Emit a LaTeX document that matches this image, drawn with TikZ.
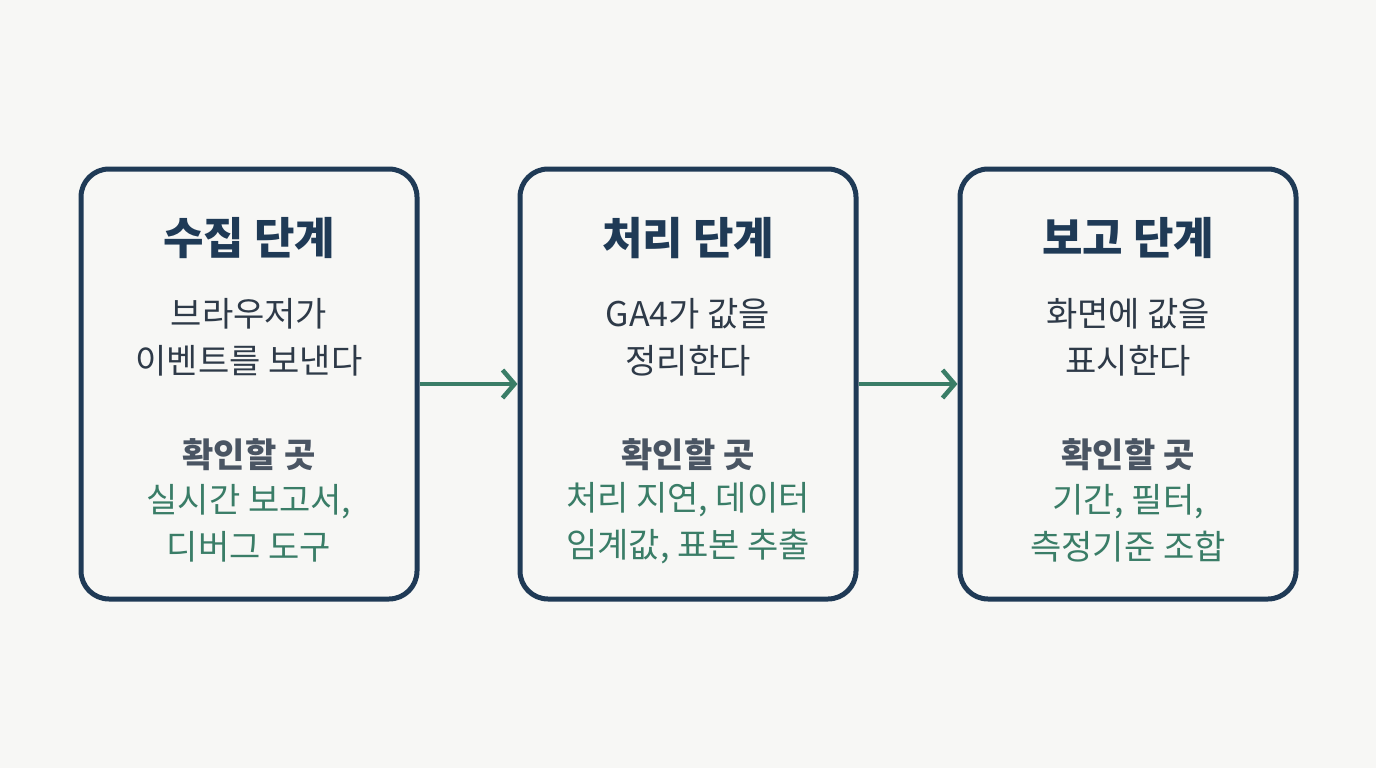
\documentclass[tikz,border=0pt]{standalone}
\usepackage{fontspec}
\setmainfont{Noto Sans CJK KR}
\usetikzlibrary{arrows.meta}
\definecolor{bg}{HTML}{F7F7F5}
\definecolor{navy}{HTML}{1F3A56}
\definecolor{grn}{HTML}{3A7D67}
\definecolor{txt}{HTML}{2E3A48}
\definecolor{chk}{HTML}{4A5563}
\begin{document}
\begin{tikzpicture}[x=1pt,y=-1pt,
 box/.style={draw=navy,line width=5pt,rounded corners=28pt,fill=bg,minimum width=336pt,minimum height=430pt},
 ttl/.style={font=\fontsize{44}{50}\selectfont\bfseries,text=navy},
 bod/.style={font=\fontsize{34}{47}\selectfont,text=txt,align=center},
 chkl/.style={font=\fontsize{34}{40}\selectfont\bfseries,text=chk},
 gr/.style={font=\fontsize{34}{47}\selectfont,text=grn,align=center},
 arr/.style={draw=grn,line width=4.5pt,-{Straight Barb[length=12pt,width=28pt,line width=4.5pt]}}]
\fill[bg] (0,0) rectangle (1376,768);
\node[box] (b1) at (249,384) {};
\node[ttl] (t1) at (249,238) {수집 단계};
\node[bod] (d1) at (249,337) {브라우저가\\이벤트를 보낸다};
\node[chkl] (c1) at (249,455) {확인할 곳};
\node[gr] (g1) at (249,523) {실시간 보고서,\\디버그 도구};
\node[box] (b2) at (688,384) {};
\node[ttl] (t2) at (688,238) {처리 단계};
\node[bod] (d2) at (688,337) {GA4가 값을\\정리한다};
\node[chkl] (c2) at (688,455) {확인할 곳};
\node[gr] (g2) at (688,523) {처리 지연, 데이터\\임계값, 표본 추출};
\node[box] (b3) at (1128,384) {};
\node[ttl] (t3) at (1128,238) {보고 단계};
\node[bod] (d3) at (1128,337) {화면에 값을\\표시한다};
\node[chkl] (c3) at (1128,455) {확인할 곳};
\node[gr] (g3) at (1128,523) {기간, 필터,\\측정기준 조합};
\draw[arr] (b1.east) -- (b2.west);
\draw[arr] (b2.east) -- (b3.west);
\end{tikzpicture}
\end{document}
